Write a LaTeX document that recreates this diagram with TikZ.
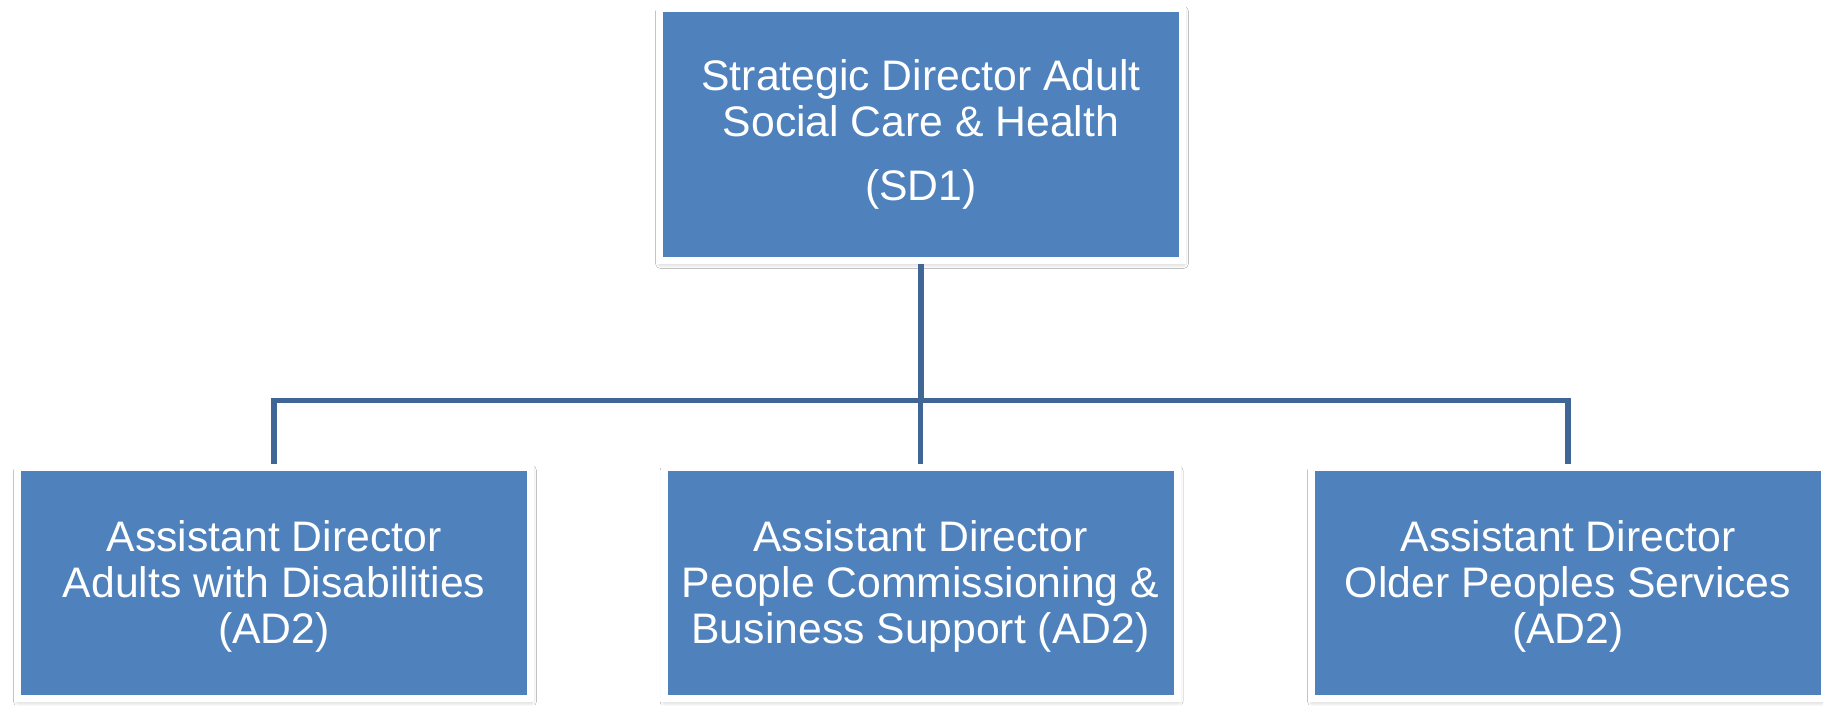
\documentclass[tikz,border=0pt]{standalone}
\usepackage{fontspec}
\setmainfont{Liberation Sans}
\usetikzlibrary{shadows.blur}
\definecolor{boxblue}{HTML}{4F81BD}
\definecolor{linkblue}{HTML}{3F6695}
\newcommand{\lowstrut}{\rule{0pt}{38pt}}
\tikzset{
  orgbox/.style={rectangle, fill=boxblue, draw=white, line width=7pt,
    text=white, align=center, inner sep=0pt,
    font=\fontsize{42.7}{46}\selectfont,
    blur shadow={shadow xshift=1pt, shadow yshift=-3pt, shadow blur radius=5pt, shadow opacity=30}},
  topbox/.style={orgbox, minimum width=523pt, minimum height=252pt},
  lowbox/.style={orgbox, minimum width=513pt, minimum height=231pt},
  link/.style={draw=linkblue, line width=5.5pt}
}
\begin{document}
\begin{tikzpicture}[x=1pt,y=-1pt]
\useasboundingbox[fill=white] (0,0) rectangle (1823,705);
\node[topbox] (sd) at (921,134.5) {Strategic Director Adult\\Social Care \& Health\\[18pt](SD1)};
\node[lowbox] (ad1) at (274,583) {\lowstrut Assistant Director\\Adults with Disabilities\\(AD2)};
\node[lowbox] (ad2) at (920.5,583) {\lowstrut Assistant Director\\People Commissioning \&\\Business Support (AD2)};
\node[lowbox] (ad3) at (1568,583) {\lowstrut Assistant Director\\Older Peoples Services\\(AD2)};
\coordinate (bus) at (921,400.5);
\draw[link] (sd.south) -- (bus);
\draw[link] (ad1.north) |- (bus) -| (ad3.north);
\draw[link] (ad2.north) -- (ad2.north |- bus);
\end{tikzpicture}
\end{document}
